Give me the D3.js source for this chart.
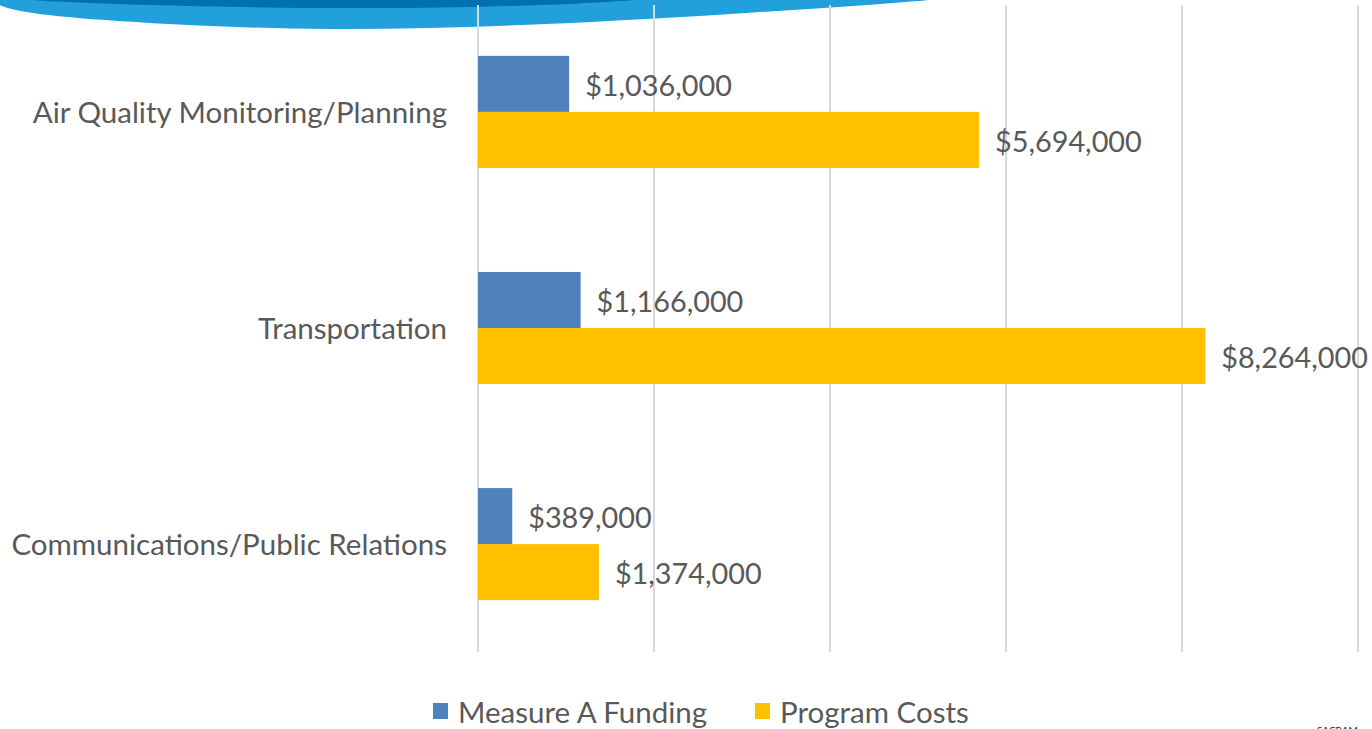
<!DOCTYPE html>
<html>
<head>
<meta charset="utf-8">
<script src="https://cdn.jsdelivr.net/npm/d3@7"></script>
<style>
  body { margin: 0; background: #fff; }
  svg { display: block; }
  text { font-family: Lato, "Open Sans", sans-serif; fill: #595959; }
</style>
</head>
<body>
<svg id="chart" width="1372" height="729"></svg>
<script>
const categories = ['Air Quality Monitoring/Planning', 'Transportation', 'Communications/Public Relations'];
const seriesNames = ['Measure A Funding', 'Program Costs'];
const measureA = [1036000, 1166000, 389000];
const programCosts = [5694000, 8264000, 1374000];
const xTicks = [0, 2000000, 4000000, 6000000, 8000000, 10000000];
const colors = ['#4f81bd', '#ffc000'];

const svg = d3.select('#chart');

// top decorative swoosh
const light = d3.line().curve(d3.curveBasis)(
  [[-10, -10], [-10, 12], [150, 24], [330, 31], [520, 26], [720, 15], [960, -1], [1000, -10]]);
svg.append('path').attr('d', light + 'Z').attr('fill', '#22a0dc');
const dark = d3.line().curve(d3.curveBasis)(
  [[-10, -10], [-10, 0], [200, 7], [400, 9], [560, 5], [660, -1], [700, -10]]);
svg.append('path').attr('d', dark + 'Z').attr('fill', '#0070b0');

const x = d3.scaleLinear().domain([0, 10000000]).range([478, 1358]);
const y = d3.scaleBand().domain(categories).range([4, 652])
  .paddingInner(0.4815).paddingOuter(0.24);
const ys = d3.scaleBand().domain(seriesNames).range([0, y.bandwidth()]);

// gridlines
svg.append('g').selectAll('line').data(xTicks).enter().append('line')
  .attr('x1', d => x(d)).attr('x2', d => x(d))
  .attr('y1', 5).attr('y2', 652)
  .attr('stroke', '#d9d9d9').attr('stroke-width', 2);

const rows = categories.map((c, i) => ({ c, vals: [measureA[i], programCosts[i]] }));
const fmt = v => '$' + d3.format(',')(v);

const g = svg.append('g').selectAll('g').data(rows).enter().append('g')
  .attr('transform', d => `translate(0,${y(d.c)})`);

g.selectAll('rect').data(d => d.vals.map((v, j) => ({ v, s: seriesNames[j], j })))
  .enter().append('rect')
  .attr('x', x(0)).attr('y', d => ys(d.s))
  .attr('width', d => x(d.v) - x(0)).attr('height', ys.bandwidth())
  .attr('fill', d => colors[d.j]);

g.selectAll('text.val').data(d => d.vals.map((v, j) => ({ v, s: seriesNames[j] })))
  .enter().append('text').attr('class', 'val')
  .attr('x', d => x(d.v) + 16).attr('y', d => ys(d.s) + ys.bandwidth() / 2)
  .attr('dy', '0.42em').attr('font-size', 28.8)
  .text(d => fmt(d.v));

// category labels
svg.append('g').selectAll('text').data(categories).enter().append('text')
  .attr('x', 447).attr('y', d => y(d) + y.bandwidth() / 2)
  .attr('dy', '0.38em').attr('text-anchor', 'end').attr('font-size', 29.5)
  .text(d => d);

// legend
const legendX = [433, 755];
const lg = svg.append('g').selectAll('g').data(seriesNames).enter().append('g')
  .attr('transform', (d, i) => `translate(${legendX[i]},0)`);
lg.append('rect').attr('x', 0).attr('y', 703).attr('width', 15).attr('height', 16)
  .attr('fill', (d, i) => colors[i]);
lg.append('text').attr('x', 25).attr('y', 712).attr('dy', '0.38em')
  .attr('font-size', 29.5).text(d => d);

svg.append('text').attr('x', 1317).attr('y', 734).attr('font-size', 10)
  .style('fill', '#222').text('SACRAM');
</script>
</body>
</html>
